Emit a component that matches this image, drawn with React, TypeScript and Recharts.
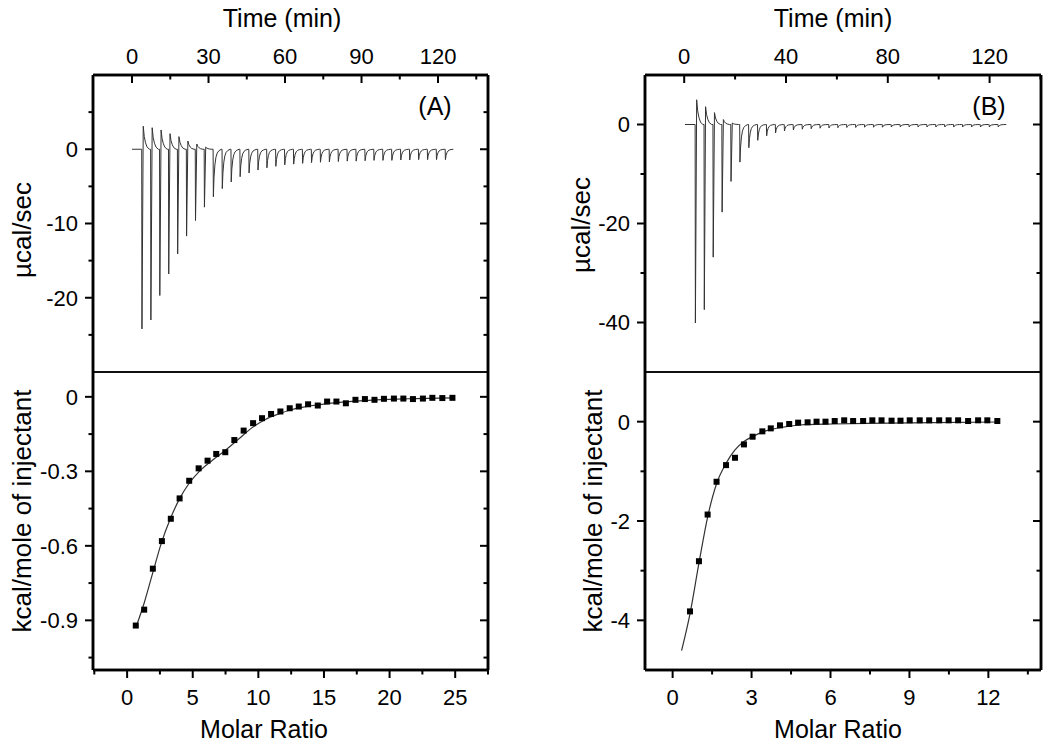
import React from 'react';
import { ComposedChart, Line, Scatter, XAxis, YAxis, ReferenceLine } from 'recharts';

const FONT = '"Liberation Sans", Arial, Helvetica, sans-serif';
const INK = '#000';
const TRACE = '#333';
const FRAME_W = 2.5;

// ---- panel (A): raw thermogram ----
const injTimeA = [3.8, 7.3, 10.8, 14.3, 17.8, 21.3, 24.8, 28.3, 31.8, 35.3, 38.8, 42.3, 45.8, 49.3, 52.8, 56.3, 59.8, 63.3, 66.8, 70.3, 73.8, 77.3, 80.8, 84.3, 87.8, 91.3, 94.8, 98.3, 101.8, 105.3, 108.8, 112.3, 115.8, 119.3, 122.8];
const peakDownA = [-24.2, -23.0, -19.7, -16.8, -14.1, -11.7, -9.6, -7.8, -6.4, -5.3, -4.4, -3.7, -3.2, -2.8, -2.5, -2.3, -2.1, -2.0, -1.9, -1.8, -1.75, -1.7, -1.65, -1.6, -1.6, -1.55, -1.5, -1.5, -1.5, -1.45, -1.45, -1.4, -1.4, -1.4, -1.4];
const peakUpA = [3.1, 2.9, 2.6, 2.1, 1.7, 1.1, 0.7, 0.3];
const traceSpanA = [0, 126];

// ---- panel (B): raw thermogram ----
const injTimeB = [4.3, 7.8, 11.3, 14.8, 18.3, 21.8, 25.3, 28.8, 32.3, 35.8, 39.3, 42.8, 46.3, 49.8, 53.3, 56.8, 60.3, 63.8, 67.3, 70.8, 74.3, 77.8, 81.3, 84.8, 88.3, 91.8, 95.3, 98.8, 102.3, 105.8, 109.3, 112.8, 116.3, 119.8, 123.3];
const peakDownB = [-40.1, -37.4, -26.8, -17.7, -11.5, -7.6, -4.7, -3.2, -2.3, -1.7, -1.3, -1.1, -0.95, -0.85, -0.75, -0.7, -0.65, -0.6, -0.6, -0.55, -0.55, -0.55, -0.5, -0.5, -0.5, -0.5, -0.5, -0.5, -0.5, -0.5, -0.5, -0.5, -0.5, -0.5, -0.5];
const peakUpB = [5.0, 3.6, 2.4, 1.0, 0.3];
const traceSpanB = [0.3, 126];

// shape of one injection peak: [minutes after injection, fraction of peak height]
const downShape = [[0, 0], [0.1, 1], [0.35, 0.6], [0.7, 0.33], [1.1, 0.17], [1.6, 0.08], [2.3, 0.03], [3.2, 0]];
const upShape = [[0.6, 1], [1.0, 0.55], [1.5, 0.28], [2.1, 0.1], [3.0, 0]];

// ---- integrated heats ----
const molarA = [0.66, 1.30, 1.96, 2.65, 3.33, 4.0, 4.73, 5.45, 6.13, 6.79, 7.48, 8.17, 8.88, 9.6, 10.28, 10.97, 11.68, 12.39, 13.08, 13.79, 14.53, 15.24, 15.95, 16.67, 17.4, 18.12, 18.85, 19.57, 20.33, 21.05, 21.78, 22.54, 23.26, 24.02, 24.79];
const heatA = [-0.921, -0.857, -0.692, -0.581, -0.491, -0.409, -0.338, -0.288, -0.257, -0.230, -0.223, -0.174, -0.136, -0.106, -0.086, -0.069, -0.059, -0.046, -0.039, -0.030, -0.035, -0.019, -0.019, -0.026, -0.012, -0.009, -0.012, -0.008, -0.007, -0.007, -0.009, -0.007, -0.004, -0.005, -0.004];
const fitMolarA = [0.66, 1.3, 2.0, 2.6, 3.3, 4.0, 4.7, 5.5, 6.5, 7.5, 8.5, 9.5, 10.5, 11.5, 12.5, 14, 16, 18, 20, 22, 24.8];
const fitHeatA = [-0.93, -0.83, -0.70, -0.59, -0.49, -0.41, -0.35, -0.30, -0.255, -0.215, -0.17, -0.125, -0.092, -0.07, -0.052, -0.036, -0.023, -0.015, -0.01, -0.007, -0.004];

const molarB = [0.66, 1.0, 1.33, 1.67, 2.03, 2.37, 2.71, 3.04, 3.41, 3.73, 4.08, 4.43, 4.77, 5.13, 5.47, 5.81, 6.16, 6.52, 6.86, 7.24, 7.59, 7.94, 8.32, 8.66, 9.01, 9.39, 9.75, 10.13, 10.49, 10.85, 11.23, 11.61, 11.96, 12.34];
const heatB = [-3.82, -2.81, -1.87, -1.21, -0.875, -0.727, -0.458, -0.303, -0.195, -0.135, -0.074, -0.047, -0.02, -0.013, 0, 0, 0.013, 0.027, 0.013, 0.013, 0.027, 0.027, 0.02, 0.02, 0.027, 0.027, 0.027, 0.027, 0.027, 0.027, 0.013, 0.027, 0.027, 0.013];
const fitMolarB = [0.34, 0.66, 1.0, 1.33, 1.67, 2.03, 2.37, 2.71, 3.04, 3.57, 4.08, 4.84, 6.1, 7.37, 9.9, 12.34];
const fitHeatB = [-4.61, -3.87, -2.85, -1.92, -1.25, -0.84, -0.57, -0.40, -0.30, -0.18, -0.12, -0.067, -0.047, -0.034, -0.02, -0.007];

// ---- axes ----
const timeDomainA = [-15.3, 139.6];
const timeTicksA = [0, 15, 30, 45, 60, 75, 90, 105, 120, 135];
const timeMajorA = [0, 30, 60, 90, 120];
const powerDomainA = [-30, 10];
const powerTicksA = [-25, -20, -15, -10, -5, 0, 5];
const powerMajorA = [-20, -10, 0];
const ratioDomainA = [-2.6, 27.5];
const ratioTicksA = [-2.5, 0, 2.5, 5, 7.5, 10, 12.5, 15, 17.5, 20, 22.5, 25, 27.5];
const ratioMajorA = [0, 5, 10, 15, 20, 25];
const heatDomainA = [-1.1, 0.1];
const heatTicksA = [-1.05, -0.9, -0.75, -0.6, -0.45, -0.3, -0.15, 0];
const heatMajorA = [-0.9, -0.6, -0.3, 0];

const timeDomainB = [-15.4, 140.2];
const timeTicksB = [0, 20, 40, 60, 80, 100, 120, 140];
const timeMajorB = [0, 40, 80, 120];
const powerDomainB = [-50, 10];
const powerTicksB = [-40, -30, -20, -10, 0];
const powerMajorB = [-40, -20, 0];
const ratioDomainB = [-1.05, 14];
const ratioTicksB = [0, 1.5, 3, 4.5, 6, 7.5, 9, 10.5, 12, 13.5];
const ratioMajorB = [0, 3, 6, 9, 12];
const heatDomainB = [-5, 1];
const heatTicksB = [-4, -3, -2, -1, 0];
const heatMajorB = [-4, -2, 0];

function buildTrace(times: number[], down: number[], up: number[], span: number[]) {
  const pts: { x: number; y: number }[] = [{ x: span[0], y: 0 }];
  times.forEach((t, i) => {
    const a = down[i];
    const b = up[i] || 0;
    if (b > 0) {
      pts.push({ x: t, y: 0 }, { x: t + 0.1, y: a });
      upShape.forEach(([dt, f]) => pts.push({ x: t + dt, y: b * f }));
    } else {
      downShape.forEach(([dt, f]) => pts.push({ x: t + dt, y: a * f }));
    }
  });
  pts.push({ x: span[1], y: 0 });
  return pts;
}

const zip = (xs: number[], ys: number[]) => xs.map((x, i) => ({ x, y: ys[i] }));

type Side = 'top' | 'bottom' | 'left' | 'right';

function makeTick(side: Side, majors: number[], inward: boolean, labelled: boolean) {
  return (props: any) => {
    const { x, y, payload } = props;
    const v = payload.value;
    const major = majors.includes(v);
    const len = major ? 8 : 4.5;
    let x2 = x;
    let y2 = y;
    if (side === 'left') x2 = x + (inward ? len : -len);
    if (side === 'right') x2 = x + (inward ? -len : len);
    if (side === 'top') y2 = y + (inward ? len : -len);
    if (side === 'bottom') y2 = y + (inward ? -len : len);
    let label = null;
    if (labelled && major) {
      const txt = String(v);
      if (side === 'left')
        label = <text x={x - 15} y={y} dy="0.36em" textAnchor="end" fontSize={22} fontFamily={FONT} fill={INK}>{txt}</text>;
      if (side === 'top')
        label = <text x={x} y={y - 11.5} textAnchor="middle" fontSize={22} fontFamily={FONT} fill={INK}>{txt}</text>;
      if (side === 'bottom')
        label = <text x={x} y={y + 35} textAnchor="middle" fontSize={22} fontFamily={FONT} fill={INK}>{txt}</text>;
    }
    return (
      <g>
        <line x1={x} y1={y} x2={x2} y2={y2} stroke={INK} strokeWidth={2} />
        {label}
      </g>
    );
  };
}

const frameLine = () => ({ stroke: INK, strokeWidth: FRAME_W });

interface PanelProps {
  left: number;
  axisW: number;
  rightW: number;
  trace: { x: number; y: number }[];
  timeDomain: number[];
  timeTicks: number[];
  timeMajor: number[];
  powerDomain: number[];
  powerTicks: number[];
  powerMajor: number[];
  points: { x: number; y: number }[];
  fit: { x: number; y: number }[];
  ratioDomain: number[];
  ratioTicks: number[];
  ratioMajor: number[];
  heatDomain: number[];
  heatTicks: number[];
  heatMajor: number[];
}

function Panel(p: PanelProps) {
  const common = { type: 'number' as const, allowDataOverflow: true, tickSize: 0, tickMargin: 0, tickLine: false, interval: 0 as const };
  return (
    <>
      <div style={{ position: 'absolute', left: p.left, top: 0 }}>
        <ComposedChart width={525} height={374} margin={{ top: 0, right: 0, bottom: 2, left: 0 }}>
          <XAxis {...common} dataKey="x" orientation="top" height={75} domain={p.timeDomain} ticks={p.timeTicks}
            axisLine={frameLine()} tick={makeTick('top', p.timeMajor, true, true)} />
          <YAxis {...common} dataKey="y" width={p.axisW} domain={p.powerDomain} ticks={p.powerTicks}
            axisLine={frameLine()} tick={makeTick('left', p.powerMajor, false, true)} />
          <YAxis {...common} yAxisId="m" orientation="right" width={p.rightW} domain={p.powerDomain} ticks={p.powerTicks}
            axisLine={frameLine()} tick={makeTick('right', p.powerMajor, true, false)} />
          <ReferenceLine y={p.powerDomain[1]} stroke={INK} strokeWidth={FRAME_W} />
          <ReferenceLine x={p.timeDomain[0]} stroke={INK} strokeWidth={FRAME_W} />
          <ReferenceLine x={p.timeDomain[1]} stroke={INK} strokeWidth={FRAME_W} />
          <Line data={p.trace} dataKey="y" type="linear" dot={false} stroke={TRACE} strokeWidth={1} isAnimationActive={false} />
        </ComposedChart>
      </div>
      <div style={{ position: 'absolute', left: p.left, top: 360 }}>
        <ComposedChart width={525} height={393} margin={{ top: 0, right: 0, bottom: 0, left: 0 }}>
          <XAxis {...common} dataKey="x" orientation="bottom" height={83} domain={p.ratioDomain} ticks={p.ratioTicks}
            axisLine={frameLine()} tick={makeTick('bottom', p.ratioMajor, false, true)} />
          <XAxis {...common} xAxisId="m" orientation="top" height={12} domain={p.ratioDomain} ticks={p.ratioTicks}
            axisLine={{ stroke: INK, strokeWidth: 1.5 }} tick={makeTick('top', p.ratioMajor, true, false)} />
          <YAxis {...common} dataKey="y" width={p.axisW} domain={p.heatDomain} ticks={p.heatTicks}
            axisLine={frameLine()} tick={makeTick('left', p.heatMajor, false, true)} />
          <YAxis {...common} yAxisId="m" orientation="right" width={p.rightW} domain={p.heatDomain} ticks={p.heatTicks}
            axisLine={frameLine()} tick={makeTick('right', p.heatMajor, true, false)} />
          <ReferenceLine y={p.heatDomain[0]} stroke={INK} strokeWidth={FRAME_W} />
          <ReferenceLine y={p.heatDomain[1]} stroke={INK} strokeWidth={1.5} />
          <ReferenceLine x={p.ratioDomain[0]} stroke={INK} strokeWidth={FRAME_W} />
          <ReferenceLine x={p.ratioDomain[1]} stroke={INK} strokeWidth={FRAME_W} />
          <Line data={p.fit} dataKey="y" type="monotone" dot={false} stroke={TRACE} strokeWidth={1.2} isAnimationActive={false} />
          <Scatter data={p.points} fill={INK} isAnimationActive={false}
            shape={(s: any) => <rect x={s.cx - 3} y={s.cy - 3} width={6} height={6} fill={INK} />} />
        </ComposedChart>
      </div>
    </>
  );
}

const txt = { fontFamily: FONT, fill: INK } as const;

export default function App() {
  return (
    <div style={{ position: 'absolute', left: 0, top: 0, width: 1050, height: 753, background: '#fff' }}>
      <Panel left={0} axisW={93} rightW={37}
        trace={buildTrace(injTimeA, peakDownA, peakUpA, traceSpanA)}
        timeDomain={timeDomainA} timeTicks={timeTicksA} timeMajor={timeMajorA}
        powerDomain={powerDomainA} powerTicks={powerTicksA} powerMajor={powerMajorA}
        points={zip(molarA, heatA)} fit={zip(fitMolarA, fitHeatA)}
        ratioDomain={ratioDomainA} ratioTicks={ratioTicksA} ratioMajor={ratioMajorA}
        heatDomain={heatDomainA} heatTicks={heatTicksA} heatMajor={heatMajorA} />
      <Panel left={525} axisW={120} rightW={9}
        trace={buildTrace(injTimeB, peakDownB, peakUpB, traceSpanB)}
        timeDomain={timeDomainB} timeTicks={timeTicksB} timeMajor={timeMajorB}
        powerDomain={powerDomainB} powerTicks={powerTicksB} powerMajor={powerMajorB}
        points={zip(molarB, heatB)} fit={zip(fitMolarB, fitHeatB)}
        ratioDomain={ratioDomainB} ratioTicks={ratioTicksB} ratioMajor={ratioMajorB}
        heatDomain={heatDomainB} heatTicks={heatTicksB} heatMajor={heatMajorB} />
      <svg width={1050} height={753} style={{ position: 'absolute', left: 0, top: 0, pointerEvents: 'none' }}>
        <text x={282} y={27} fontSize={25} textAnchor="middle" {...txt}>Time (min)</text>
        <text x={833} y={27} fontSize={25} textAnchor="middle" {...txt}>Time (min)</text>
        <text x={264} y={738} fontSize={25} textAnchor="middle" {...txt}>Molar Ratio</text>
        <text x={838} y={738} fontSize={25} textAnchor="middle" {...txt}>Molar Ratio</text>
        <text x={435} y={115} fontSize={25} textAnchor="middle" {...txt}>(A)</text>
        <text x={989} y={115} fontSize={25} textAnchor="middle" {...txt}>(B)</text>
        <text x={31} y={230} fontSize={26} textAnchor="middle" transform="rotate(-90 31 230)" {...txt}>µcal/sec</text>
        <text x={590} y={225} fontSize={26} textAnchor="middle" transform="rotate(-90 590 225)" {...txt}>µcal/sec</text>
        <text x={31} y={511} fontSize={26} textAnchor="middle" transform="rotate(-90 31 511)" {...txt}>kcal/mole of injectant</text>
        <text x={602} y={511} fontSize={26} textAnchor="middle" transform="rotate(-90 602 511)" {...txt}>kcal/mole of injectant</text>
      </svg>
    </div>
  );
}
